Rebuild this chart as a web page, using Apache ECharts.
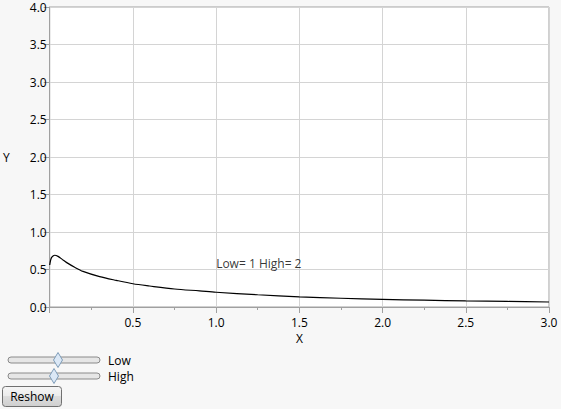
<!DOCTYPE html>
<html>
<head>
<meta charset="utf-8">
<script src="https://cdn.jsdelivr.net/npm/echarts@6/dist/echarts.min.js"></script>
<style>
html,body{margin:0;padding:0;background:#f7f7f7;}
#c{width:561px;height:409px;}
</style>
</head>
<body>
<div id="c"></div>
<script>
const xValues = [0, 0.005, 0.01, 0.02, 0.03, 0.05, 0.075, 0.1, 0.15, 0.2, 0.3, 0.4, 0.5, 0.6, 0.75, 0.9, 1.0, 1.25, 1.5, 1.75, 2.0, 2.25, 2.5, 2.75, 3.0];
const yValues = [0.56, 0.62, 0.655, 0.68, 0.69, 0.675, 0.635, 0.595, 0.53, 0.475, 0.405, 0.355, 0.31, 0.28, 0.24, 0.215, 0.197, 0.163, 0.135, 0.117, 0.102, 0.091, 0.081, 0.074, 0.067];
const xTicks = [0.5, 1.0, 1.5, 2.0, 2.5, 3.0];
const yTicks = [0.0, 0.5, 1.0, 1.5, 2.0, 2.5, 3.0, 3.5, 4.0];
const annotation = {x: 1.0, y: 0.5, text: 'Low= 1 High= 2'};
const sliderLabels = ['Low', 'High'];
const buttonLabel = 'Reshow';

const font = '"Segoe UI", "Open Sans", "Noto Sans", sans-serif';
const chart = echarts.init(document.getElementById('c'), null, {renderer: 'svg'});

function slider(y, thumbX, label) {
  return [
    {type: 'rect', shape: {x: 8, y: y - 3, width: 92, height: 6, r: 3},
     style: {fill: '#e6e6e6', stroke: '#8a8a8a', lineWidth: 1}},
    {type: 'polygon', shape: {points: [[thumbX, y - 7.5], [thumbX + 4.5, y], [thumbX, y + 7.5], [thumbX - 4.5, y]]},
     style: {fill: '#dbe8f6', stroke: '#7f9db9', lineWidth: 1}},
    {type: 'text', x: 108, y: y, style: {text: label, font: '12px ' + font, fill: '#000', verticalAlign: 'middle'}}
  ];
}

const option = {
  backgroundColor: '#f7f7f7',
  animation: false,
  grid: {left: 49, top: 7, width: 500, height: 300, show: true, backgroundColor: '#ffffff', borderColor: '#a0a0a0', borderWidth: 1},
  xAxis: {
    type: 'value', min: 0, max: 3, interval: 0.5,
    name: 'X', nameLocation: 'middle', nameGap: 23,
    nameTextStyle: {fontFamily: font, fontSize: 12, color: '#000'},
    axisLine: {show: true, onZero: false, lineStyle: {color: '#a0a0a0'}},
    axisTick: {show: true, length: 6, lineStyle: {color: '#a0a0a0'}},
    minorTick: {show: true, splitNumber: 2, length: 3, lineStyle: {color: '#a0a0a0'}},
    splitLine: {show: true, lineStyle: {color: '#d4d4d4'}},
    axisLabel: {
      fontFamily: font, fontSize: 12, color: '#000', margin: 9,
      formatter: v => xTicks.some(t => Math.abs(t - v) < 1e-9) ? v.toFixed(1) : '',
      showMinLabel: false
    }
  },
  yAxis: {
    type: 'value', min: 0, max: 4, interval: 0.5,
    name: 'Y', nameLocation: 'middle', nameGap: 40, nameRotate: 0,
    nameTextStyle: {fontFamily: font, fontSize: 12, color: '#000'},
    axisLine: {show: true, onZero: false, lineStyle: {color: '#a0a0a0'}},
    axisTick: {show: true, length: 6, lineStyle: {color: '#a0a0a0'}},
    splitLine: {show: true, lineStyle: {color: '#d4d4d4'}},
    axisLabel: {
      fontFamily: font, fontSize: 12, color: '#000', margin: 3,
      formatter: v => yTicks.some(t => Math.abs(t - v) < 1e-9) ? v.toFixed(1) : ''
    }
  },
  series: [
    {
      type: 'line', data: xValues.map((x, i) => [x, yValues[i]]),
      smooth: 0.3, showSymbol: false, symbol: 'none',
      lineStyle: {color: '#000', width: 1.2}
    },
    {
      type: 'scatter', symbolSize: 0, silent: true,
      data: [[annotation.x, annotation.y]],
      label: {show: true, position: [0, 0], align: 'left', verticalAlign: 'bottom',
        formatter: annotation.text, fontFamily: font, fontSize: 12, color: '#000'}
    }
  ],
  graphic: [
    ...slider(360, 58, sliderLabels[0]),
    ...slider(376, 54, sliderLabels[1]),
    {type: 'rect', shape: {x: 2.5, y: 386.5, width: 59, height: 20, r: 3},
     style: {fill: {type: 'linear', x: 0, y: 0, x2: 0, y2: 1, colorStops: [{offset: 0, color: '#f6f6f6'}, {offset: 0.5, color: '#ebebeb'}, {offset: 0.5, color: '#dddddd'}, {offset: 1, color: '#cfcfcf'}]},
       stroke: '#707070', lineWidth: 1}},
    {type: 'text', x: 32, y: 396.5, style: {text: buttonLabel, font: '12px ' + font, fill: '#000', align: 'center', verticalAlign: 'middle'}}
  ]
};
chart.setOption(option);
</script>
</body>
</html>
